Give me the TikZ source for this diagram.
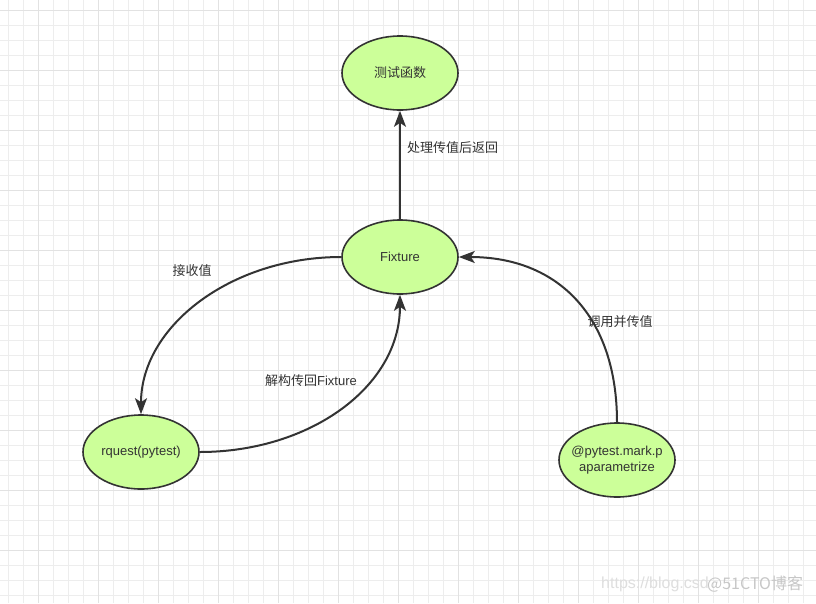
\documentclass[tikz,border=0pt]{standalone}
\usepackage{fontspec}
\setmainfont{Liberation Sans}
\newfontfamily\cjk{Noto Sans CJK SC}
\usetikzlibrary{arrows.meta,shapes.geometric}
\definecolor{gridminor}{HTML}{EDEDED}
\definecolor{gridmajor}{HTML}{E2E2E2}
\definecolor{nodefill}{HTML}{CCFF99}
\definecolor{ink}{HTML}{333333}
\tikzset{
  stateell/.style={ellipse, draw=ink, line width=1.6pt, fill=nodefill, minimum width=116pt, minimum height=74pt, inner sep=0pt, text=ink, font=\fontsize{13}{17}\selectfont},
  linkarrow/.style={draw=ink, line width=2pt, -{Stealth[length=16pt,width=12pt,inset=4pt]}},
  elabel/.style={text=ink, font=\fontsize{13}{16}\selectfont\cjk, inner sep=0pt},
}
\begin{document}
\begin{tikzpicture}[x=1pt,y=-1pt]
\useasboundingbox (0,0) rectangle (816,603);
\fill[white] (0,0) rectangle (816,603);
\foreach \x in {8,23,...,815} \draw[gridminor,line width=1pt] (\x,0) -- (\x,603);
\foreach \y in {10,25,...,602} \draw[gridminor,line width=1pt] (0,\y) -- (816,\y);
\foreach \x in {38,98,...,815} \draw[gridmajor,line width=1pt] (\x,0) -- (\x,603);
\foreach \y in {10,70,...,602} \draw[gridmajor,line width=1pt] (0,\y) -- (816,\y);

\node[stateell] (test) at (400,73) {\cjk 测试函数};
\node[stateell] (fix) at (400,257) {Fixture};
\node[stateell] (rq) at (141,452) {\makebox[0pt]{rquest(pytest)}};
\node[stateell] (pm) at (617,460) {\makebox[0pt]{\begin{tabular}{@{}c@{}}@pytest.mark.p\\[-1pt]aparametrize\end{tabular}}};

\draw[linkarrow] (fix.north) -- (test.south);
\draw[linkarrow] (fix.west) .. controls +(-110,0) and +(0,-88) .. (rq.north);
\draw[linkarrow] (rq.east) .. controls +(110,0) and +(0,92) .. (fix.south);
\draw[linkarrow] (pm.north) .. controls +(0,-105) and +(100,0) .. (fix.east);

\node[elabel, anchor=west] (l1) at (407,148) {处理传值后返回};
\node[elabel] (l2) at (192,271) {接收值};
\node[elabel] (l3) at (311,381) {解构传回\rmfamily Fixture};
\node[elabel] (l4) at (620,322) {调用并传值};

\node[anchor=west, text=black!13, font=\fontsize{16}{18}\selectfont, inner sep=0pt] (wm1) at (601,584) {https://blog.csd};
\node[anchor=west, text=black!22, font=\fontsize{16}{18}\selectfont\cjk, inner sep=0pt] (wm2) at (707,584) {@51CTO博客};
\end{tikzpicture}
\end{document}
